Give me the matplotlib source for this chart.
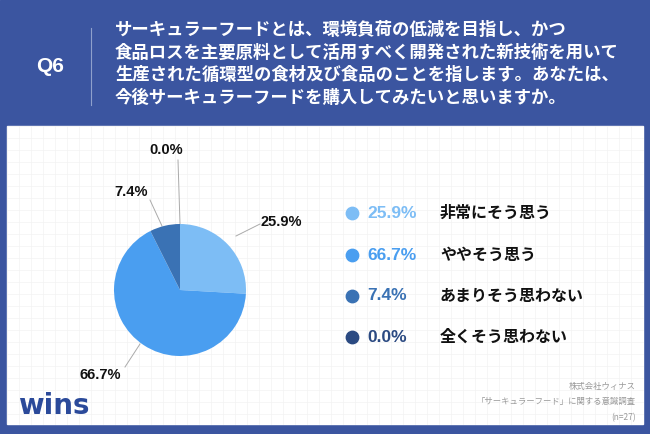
import matplotlib
matplotlib.use("Agg")
import matplotlib.pyplot as plt
from matplotlib.patches import Rectangle
import numpy as np

plt.rcParams["font.family"] = ["Noto Sans CJK JP"]

labels = ["非常にそう思う", "ややそう思う", "あまりそう思わない", "全くそう思わない"]
values = [25.9, 66.7, 7.4, 0.0]
colors = ["#7dbdf5", "#4a9ef0", "#3a72b4", "#2b4a82"]
pct_labels = ["25.9%", "66.7%", "7.4%", "0.0%"]

W, H = 650, 434
fig = plt.figure(figsize=(W/100, H/100), dpi=100)
bg = fig.add_axes([0, 0, 1, 1])
bg.set_xlim(0, W); bg.set_ylim(H, 0); bg.axis("off")
bg.add_patch(Rectangle((0, 0), W, H, color="#3b55a0"))
bg.add_patch(Rectangle((7, 126), 636, 298, color="white"))
for gx in np.arange(7, 643, 12):
    bg.plot([gx, gx], [126, 424], color="#f3f3f3", lw=0.5)
for gy in np.arange(126, 424, 12):
    bg.plot([7, 643], [gy, gy], color="#f3f3f3", lw=0.5)
bg.text(50, 66, "Q6", color="white", fontsize=15, fontweight="bold", ha="center", va="center", family="Liberation Sans")
bg.plot([91, 91], [28, 105], color="#8fa0cc", lw=0.8)
q = ("サーキュラーフードとは、環境負荷の低減を目指し、かつ\n"
     "食品ロスを主要原料として活用すべく開発された新技術を用いて\n"
     "生産された循環型の食材及び食品のことを指します。あなたは、\n"
     "今後サーキュラーフードを購入してみたいと思いますか。")
bg.text(115, 64, q, color="white", fontsize=12.5, fontweight="bold", ha="left", va="center", linespacing=1.35)

ys = [213, 255, 296, 337]
for y, v, c, l in zip(ys, pct_labels, colors, labels):
    bg.scatter([352], [y], s=80, color=c, zorder=3)
    bg.text(367, y, v, color=c, fontsize=12.5, ha="left", va="center", family="Liberation Sans", fontweight="bold")
    bg.text(440, y, l, color="#111111", fontsize=11.5, fontweight="bold", ha="left", va="center")

bg.text(636, 402, "株式会社ウィナス\n「サーキュラーフード」に関する意識調査\n(n=27)", color="#999999",
        fontsize=6, ha="right", va="center", linespacing=1.9)
bg.text(18, 406, "wins", color="#2b4a9a", fontsize=20, fontweight="bold", ha="left", va="center", family="DejaVu Sans")

cx, cy, r = 180, 290, 66
pa = fig.add_axes([(cx - r)/W, 1 - (cy + r)/H, 2*r/W, 2*r/H])
pa.pie(values, colors=colors, startangle=90, counterclock=False, radius=1)
pa.set_xlim(-1, 1); pa.set_ylim(-1, 1); pa.set_aspect("auto"); pa.axis("off")

lab_pos = [(281, 222), (100, 375), (131, 192), (166, 150)]
line_pts = [((236, 236), (260, 224)), ((140, 344), (125, 367)), ((162, 226), (150, 200)), ((180, 224), (178, 160))]
for (tx, ty), t, ((x0, y0), (x1, y1)) in zip(lab_pos, pct_labels, line_pts):
    bg.plot([x0, x1], [y0, y1], color="#aaaaaa", lw=0.7)
    bg.text(tx, ty, t, fontsize=10.5, ha="center", va="center", color="#111111", family="Liberation Sans", fontweight="bold")

fig.savefig("out.png", dpi=100)
